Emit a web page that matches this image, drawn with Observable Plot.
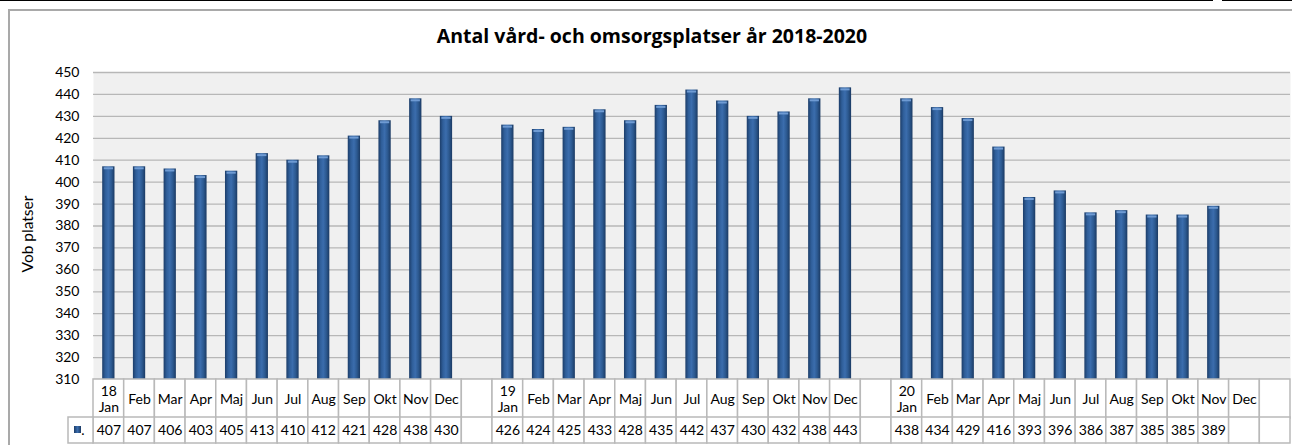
<!DOCTYPE html>
<html><head><meta charset="utf-8">
<script src="https://cdn.jsdelivr.net/npm/d3@7"></script>
<script src="https://cdn.jsdelivr.net/npm/@observablehq/plot@0.6"></script>
<style>
html,body{margin:0;padding:0;background:#fff;}
#wrap{position:relative;width:1292px;height:445px;overflow:hidden;font-family:Lato,"Liberation Sans",sans-serif;}
.topline{position:absolute;top:0;height:1px;background:#000;}
#frame{position:absolute;left:8px;top:9px;width:1300px;height:470px;border:2px solid #a9a9a9;box-sizing:border-box;}
#title{position:absolute;top:26px;left:8px;width:1288px;text-align:center;font-family:"Open Sans",sans-serif;font-weight:700;font-size:19.5px;line-height:20px;color:#000;}
.pl{position:absolute;left:0;}
</style></head>
<body><div id="wrap">
<div class="topline" style="left:0;width:1213px"></div>
<div class="topline" style="left:1222px;width:70px"></div>
<div id="frame"></div>
<div id="title">Antal vård- och omsorgsplatser år 2018-2020</div>
</div>
<script>
const months = ["Jan","Feb","Mar","Apr","Maj","Jun","Jul","Aug","Sep","Okt","Nov","Dec"];
const years = ["18","19","20"];
const values2018 = [407,407,406,403,405,413,410,412,421,428,438,430];
const values2019 = [426,424,425,433,428,435,442,437,430,432,438,443];
const values2020 = [438,434,429,416,393,396,386,387,385,385,389,null];
const yTicks = [310,320,330,340,350,360,370,380,390,400,410,420,430,440,450];
const yLabel = "Vob platser";

const seriesByYear = [values2018, values2019, values2020];
const rows = [];
years.forEach((yr, i) => {
  months.forEach((m, j) => {
    rows.push({cat: yr + "-" + m, label: j === 0 ? yr + "\n" + m : m, value: seriesByYear[i][j]});
  });
  rows.push({cat: "gap" + i, label: "", value: null});
});
const cats = rows.map(d => d.cat);
const barRows = rows.filter(d => d.value != null);

const font = "Lato, 'Liberation Sans', sans-serif";
const wrap = document.getElementById("wrap");

const chart = Plot.plot({
  width: 1292, height: 380, marginTop: 72, marginBottom: 1, marginLeft: 93, marginRight: 2,
  style: {fontFamily: font, fontSize: "14px", color: "#000", background: "transparent", overflow: "visible"},
  x: {domain: cats, paddingInner: 0.6, paddingOuter: 0.3, round: false, axis: null},
  y: {domain: [310, 450], axis: null},
  marks: [
    Plot.frame({fill: "#f0f0f0", stroke: null}),
    Plot.gridY(yTicks, {stroke: "#b7b7b7", strokeOpacity: 1, strokeWidth: 1.3}),
    Plot.barY(barRows, {x: "cat", y: "value", fill: "url(#barGrad)", clip: true}),
    Plot.tickY(barRows, {x: "cat", y: "value", stroke: "#6f9bd3", strokeWidth: 2, dy: 1.5, insetLeft: 1.5, insetRight: 1.5}),
    Plot.axisY({ticks: yTicks, tickSize: 0, tickPadding: 14, label: yLabel, labelArrow: false, labelAnchor: "center", labelOffset: 72, fontSize: 14})
  ]
});
const defs = d3.select(chart).append("defs");
const g = defs.append("linearGradient").attr("id", "barGrad").attr("x1", 0).attr("x2", 1).attr("y1", 0).attr("y2", 0);
[["0%","#1c3d69"],["25%","#2f5e99"],["50%","#3b6dad"],["75%","#2c5990"],["100%","#1b3a63"]].forEach(([o,c]) => g.append("stop").attr("offset", o).attr("stop-color", c));
const lab = d3.select(chart).select('g[aria-label="y-axis label"]');
const prev = lab.attr("transform");
lab.attr("font-size", 15.5).attr("transform", "translate(0,8)" + (prev ? " " + prev : ""));
lab.selectAll("text").attr("font-size", 15.5);
chart.classList.add("pl"); chart.style.top = "0px";
wrap.appendChild(chart);

const hdr = Plot.plot({
  width: 1292, height: 41, marginTop: 1, marginBottom: 1, marginLeft: 93, marginRight: 2,
  style: {fontFamily: font, fontSize: "14px", color: "#000", background: "transparent", overflow: "visible"},
  x: {domain: cats, padding: 0, round: false, axis: null},
  marks: [
    Plot.cell(rows, {x: "cat", fill: "white", stroke: "#b9b9b9", strokeWidth: 1.5}),
    Plot.text(rows, {x: "cat", text: "label", fontSize: 14, lineHeight: 1.15, fill: "#000"})
  ]
});
hdr.classList.add("pl"); hdr.style.top = "378px";
wrap.appendChild(hdr);

const val = Plot.plot({
  width: 1292, height: 28, marginTop: 1, marginBottom: 1, marginLeft: 93, marginRight: 2,
  style: {fontFamily: font, fontSize: "14px", color: "#000", background: "transparent", overflow: "visible"},
  x: {domain: cats, padding: 0, round: false, axis: null},
  marks: [
    Plot.cell(rows, {x: "cat", fill: "white", stroke: "#b9b9b9", strokeWidth: 1.5}),
    Plot.text(rows, {x: "cat", text: d => d.value == null ? "" : String(d.value), fontSize: 14, fill: "#000"})
  ]
});
const vs = d3.select(val);
vs.append("rect").attr("x", 68).attr("y", 1).attr("width", 25).attr("height", 26).attr("fill", "white").attr("stroke", "#b9b9b9").attr("stroke-width", 1.5);
const g2 = vs.append("defs").append("linearGradient").attr("id", "barGrad2").attr("x1", 0).attr("x2", 1);
[["0%","#1c3d69"],["50%","#3b6dad"],["100%","#1b3a63"]].forEach(([o,c]) => g2.append("stop").attr("offset", o).attr("stop-color", c));
vs.append("rect").attr("x", 74).attr("y", 10).attr("width", 7).attr("height", 7).attr("fill", "url(#barGrad2)");
vs.append("text").attr("x", 83).attr("y", 19).attr("font-size", 14).attr("font-family", font).text(".");
val.classList.add("pl"); val.style.top = "416px";
wrap.appendChild(val);
</script>
</body></html>
